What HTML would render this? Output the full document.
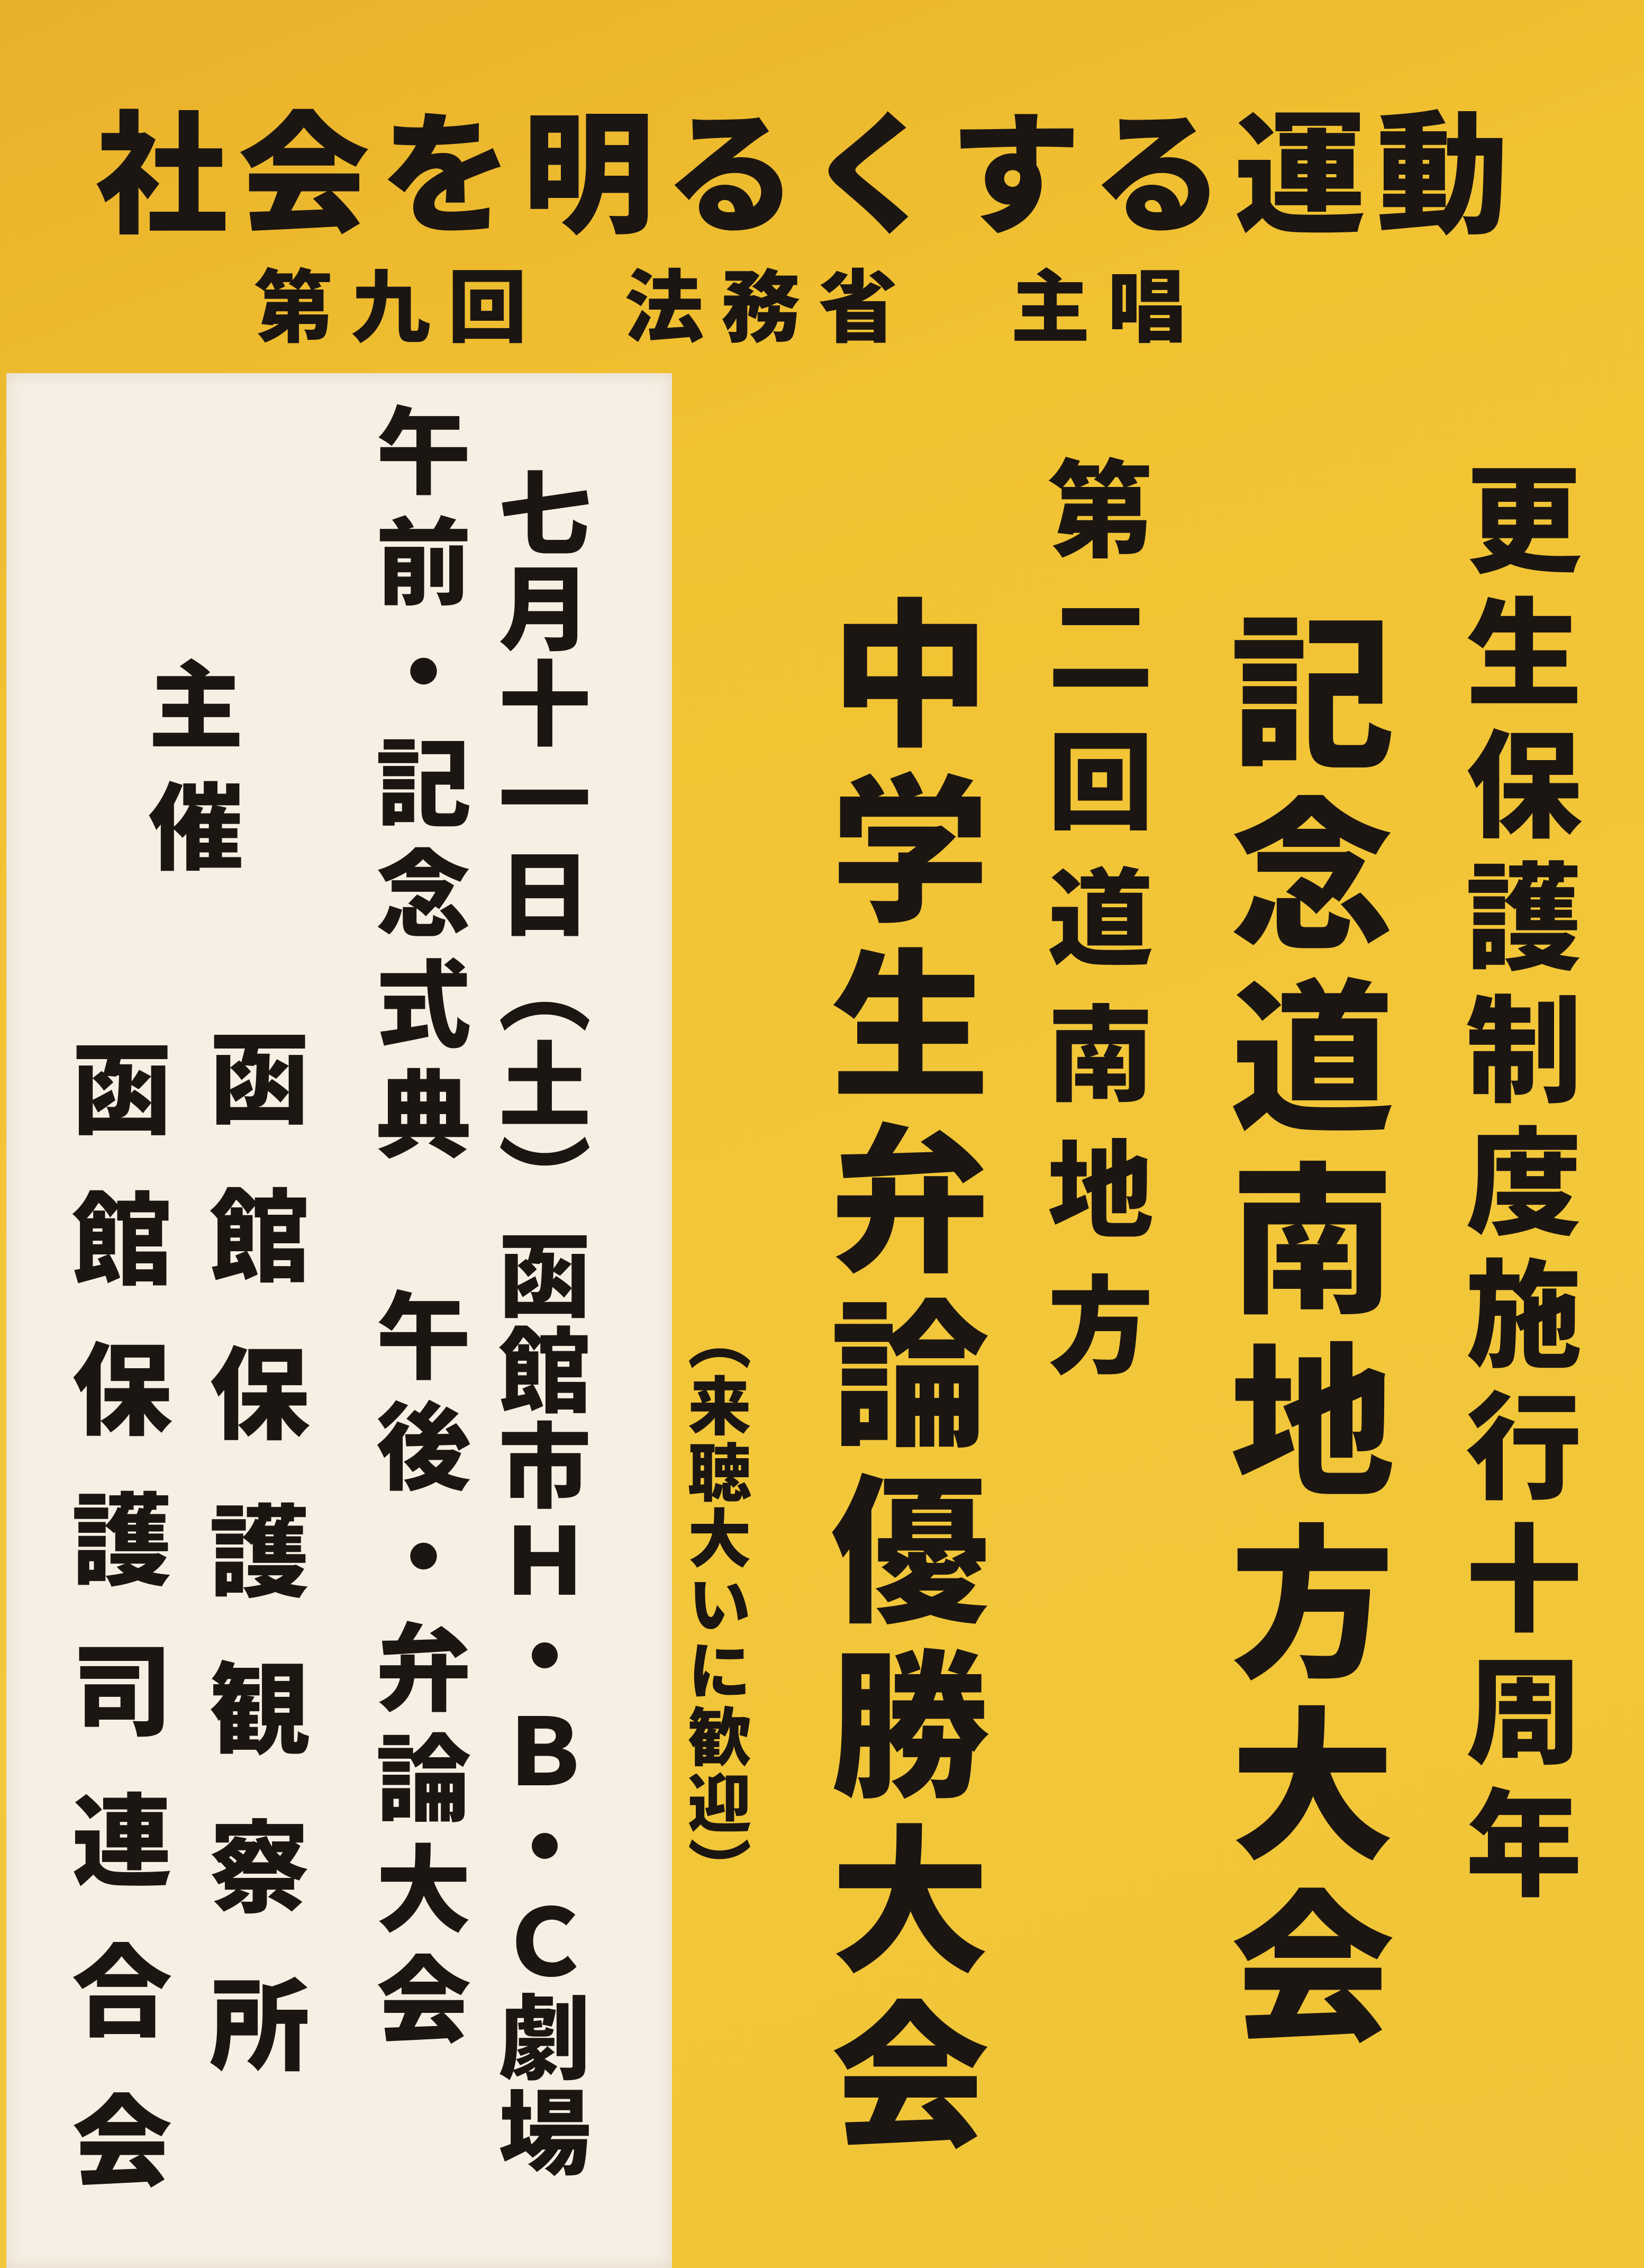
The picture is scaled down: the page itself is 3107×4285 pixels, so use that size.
<!DOCTYPE html>
<html lang="ja">
<head>
<meta charset="utf-8">
<style>
  html,body{margin:0;padding:0;}
  body{width:3107px;height:4285px;position:relative;overflow:hidden;
    background:linear-gradient(160deg,#e9b02a 0%,#f1c232 25%,#f3c73a 60%,#f0c437 100%);
    font-family:"Liberation Serif","Noto Serif CJK JP","Noto Sans CJK JP",serif;color:#1c1612;}
  .panel{position:absolute;left:12px;top:705px;width:1258px;height:3580px;background:#f6efe4;
    box-shadow:inset 0 0 30px rgba(180,150,110,0.25);}
  .v{position:absolute;writing-mode:vertical-rl;text-orientation:upright;line-height:1;
     font-family:"Noto Sans CJK JP","Noto Serif CJK JP",sans-serif;font-weight:900;white-space:nowrap;}
  .h{position:absolute;line-height:1;font-family:"Noto Sans CJK JP",sans-serif;font-weight:900;white-space:nowrap;}
</style>
</head>
<body>
  <div class="panel"></div>

  <div class="h"
       style="left:180px;top:185px;font-size:250px;letter-spacing:19px;">社会を明るくする運動</div>

  <div class="h"
       style="left:480px;top:495px;font-size:150px;letter-spacing:33px;">第九回</div>
  <div class="h"
       style="left:1180px;top:495px;font-size:150px;letter-spacing:33px;">法務省</div>
  <div class="h"
       style="left:1910px;top:495px;font-size:150px;letter-spacing:33px;">主唱</div>

  <div class="v"
       style="left:2770px;top:870px;font-size:220px;letter-spacing:30px;">更生保護制度施行十周年</div>

  <div class="v"
       style="left:2325px;top:1150px;font-size:310px;letter-spacing:34px;">記念道南地方大会</div>

  <div class="v"
       style="left:1980px;top:860px;font-size:200px;letter-spacing:57px;">第二回道南地方</div>

  <div class="v"
       style="left:1570px;top:1120px;font-size:300px;letter-spacing:31px;">中学生弁論優勝大会</div>

  <div class="v"
       style="left:1300px;top:2470px;font-size:120px;letter-spacing:5px;">（来聴大いに歓迎）</div>

  <div class="v"
       style="left:942px;top:880px;font-size:175px;letter-spacing:5px;">七月十一日（土）函館市Ｈ・Ｂ・Ｃ劇場</div>

  <div class="v"
       style="left:710px;top:760px;font-size:180px;letter-spacing:29px;">午前・記念式典　午後・弁論大会</div>

  <div class="v"
       style="left:280px;top:1240px;font-size:180px;letter-spacing:50px;">主催</div>

  <div class="v"
       style="left:395px;top:1940px;font-size:190px;letter-spacing:108px;">函館保護観察所</div>

  <div class="v"
       style="left:135px;top:1960px;font-size:190px;letter-spacing:94px;">函館保護司連合会</div>
</body>
</html>
